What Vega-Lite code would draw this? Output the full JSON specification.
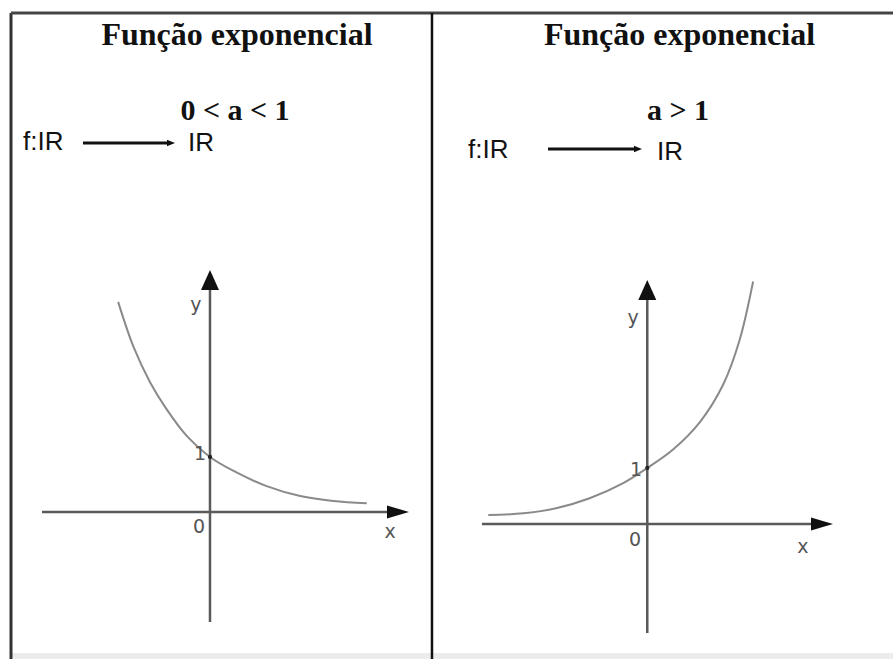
{
  "$schema": "https://vega.github.io/schema/vega-lite/v6.json",
  "autosize": "none",
  "padding": 0,
  "width": 893,
  "height": 659,
  "background": "white",
  "config": {"view": {"stroke": null}},
  "datasets": {
    "frame": [
      {"edge": "left", "X": -3.618, "X2": -3.618, "Y": 9.073, "Y2": -2.673},
      {"edge": "top", "X": -3.618, "X2": 12.418, "Y": 9.073, "Y2": 9.073},
      {"edge": "divider", "X": 4.036, "X2": 4.036, "Y": 9.073, "Y2": -2.673},
      {"edge": "bottom", "X": -3.618, "X2": 12.418, "Y": -2.618, "Y2": -2.618}
    ],
    "curve1": [
      {"X": -1.67, "Y": 3.82}, {"X": -1.39, "Y": 3.0}, {"X": -1.09, "Y": 2.36}, {"X": -0.79, "Y": 1.87},
      {"X": -0.42, "Y": 1.38}, {"X": 0, "Y": 1.0}, {"X": 0.42, "Y": 0.75}, {"X": 1.03, "Y": 0.47},
      {"X": 1.64, "Y": 0.29}, {"X": 2.24, "Y": 0.2}, {"X": 2.85, "Y": 0.16}
    ],
    "curve2": [
      {"X": -2.84, "Y": 0.16}, {"X": -2.21, "Y": 0.19}, {"X": -1.63, "Y": 0.28}, {"X": -1.03, "Y": 0.46},
      {"X": -0.43, "Y": 0.73}, {"X": 0, "Y": 1.0}, {"X": 0.46, "Y": 1.33}, {"X": 0.94, "Y": 1.82},
      {"X": 1.36, "Y": 2.5}, {"X": 1.65, "Y": 3.29}, {"X": 1.89, "Y": 4.33}
    ],
    "axes1": [
      {"X": 0, "X2": 0, "Y": -2.0, "Y2": 4.1},
      {"X": -3.055, "X2": 3.3, "Y": 0, "Y2": 0}
    ],
    "axes2": [
      {"X": 0, "X2": 0, "Y": -1.946, "Y2": 4.1},
      {"X": -2.952, "X2": 3.0, "Y": 0, "Y2": 0}
    ],
    "heads1": [
      {"X": 0, "Y": 4.218, "dir": "up"},
      {"X": 3.418, "Y": 0, "dir": "right"}
    ],
    "heads2": [
      {"X": 0, "Y": 4.179, "dir": "up"},
      {"X": 3.12, "Y": 0, "dir": "right"}
    ],
    "maparrow1": [{"X": -2.309, "X2": -0.764, "Y": 6.709, "Y2": 6.709, "hx": -0.709}],
    "maparrow2": [{"X": -1.773, "X2": -0.22, "Y": 6.696, "Y2": 6.696, "hx": -0.166}],
    "title1": [
      {"X": 0.491, "Y": 8.491, "label": "Função exponencial", "kind": "title"},
      {"X": 0.455, "Y": 7.127, "label": "0 < a < 1", "kind": "cond"}
    ],
    "title2": [
      {"X": 0.575, "Y": 8.554, "label": "Função exponencial", "kind": "title"},
      {"X": 0.548, "Y": 7.214, "label": "a > 1", "kind": "cond"}
    ],
    "map1": [
      {"X": -3.4, "Y": 6.582, "label": "f:IR"},
      {"X": -0.4, "Y": 6.564, "label": "IR"}
    ],
    "map2": [
      {"X": -3.202, "Y": 6.536, "label": "f:IR"},
      {"X": 0.173, "Y": 6.5, "label": "IR"}
    ],
    "labels1": [
      {"X": -0.255, "Y": 3.764, "label": "y"},
      {"X": -0.182, "Y": 1.055, "label": "1"},
      {"X": -0.2, "Y": -0.273, "label": "0"},
      {"X": 3.273, "Y": -0.364, "label": "x"}
    ],
    "labels2": [
      {"X": -0.255, "Y": 3.679, "label": "y"},
      {"X": -0.2, "Y": 0.964, "label": "1"},
      {"X": -0.22, "Y": -0.286, "label": "0"},
      {"X": 2.78, "Y": -0.41, "label": "x"}
    ],
    "dot": [{"X": 0, "Y": 1}]
  },
  "resolve": {"scale": {"x": "independent", "y": "independent"}},
  "layer": [
    {
      "encoding": {
        "x": {"field": "X", "type": "quantitative", "scale": {"domain": [-3.818, 12.418], "nice": false, "zero": false}, "axis": null},
        "y": {"field": "Y", "type": "quantitative", "scale": {"domain": [-2.673, 9.309], "nice": false, "zero": false}, "axis": null}
      },
      "layer": [
        {"data": {"name": "frame"}, "transform": [{"filter": "datum.edge === 'bottom'"}],
         "mark": {"type": "rule", "color": "#ececec", "strokeWidth": 6},
         "encoding": {"x2": {"field": "X2"}, "y2": {"field": "Y2"}}},
        {"data": {"name": "frame"}, "transform": [{"filter": "datum.edge === 'left'"}],
         "mark": {"type": "rule", "color": "#333", "strokeWidth": 3},
         "encoding": {"x2": {"field": "X2"}, "y2": {"field": "Y2"}}},
        {"data": {"name": "frame"}, "transform": [{"filter": "datum.edge === 'top'"}],
         "mark": {"type": "rule", "color": "#444", "strokeWidth": 3},
         "encoding": {"x2": {"field": "X2"}, "y2": {"field": "Y2"}}},
        {"data": {"name": "frame"}, "transform": [{"filter": "datum.edge === 'divider'"}],
         "mark": {"type": "rule", "color": "#111", "strokeWidth": 2.5},
         "encoding": {"x2": {"field": "X2"}, "y2": {"field": "Y2"}}},
        {"data": {"name": "axes1"}, "mark": {"type": "rule", "color": "#5a5a5a", "strokeWidth": 2.5},
         "encoding": {"x2": {"field": "X2"}, "y2": {"field": "Y2"}}},
        {"data": {"name": "heads1"}, "transform": [{"filter": "datum.dir === 'up'"}],
         "mark": {"type": "point", "shape": "M0,-1L-0.9,1L0.9,1Z", "filled": true, "color": "#111", "opacity": 1, "size": 400}, "encoding": {}},
        {"data": {"name": "heads1"}, "transform": [{"filter": "datum.dir === 'right'"}],
         "mark": {"type": "point", "shape": "M1,0L-1,-0.6L-1,0.6Z", "filled": true, "color": "#111", "opacity": 1, "size": 484}, "encoding": {}},
        {"data": {"name": "curve1"}, "mark": {"type": "line", "color": "#8a8a8a", "strokeWidth": 2, "interpolate": "catmull-rom"},
         "encoding": {"order": {"field": "X", "type": "quantitative"}}},
        {"data": {"name": "dot"}, "mark": {"type": "point", "filled": true, "color": "#222", "opacity": 1, "size": 18}, "encoding": {}},
        {"data": {"name": "maparrow1"}, "mark": {"type": "rule", "color": "#111", "strokeWidth": 3},
         "encoding": {"x2": {"field": "X2"}, "y2": {"field": "Y2"}}},
        {"data": {"name": "maparrow1"}, "mark": {"type": "point", "shape": "M1,0L-1,-0.8L-1,0.8Z", "filled": true, "color": "#111", "opacity": 1, "size": 64},
         "encoding": {"x": {"field": "hx", "type": "quantitative"}}},
        {"data": {"name": "title1"}, "transform": [{"filter": "datum.kind === 'title'"}],
         "mark": {"type": "text", "font": "Liberation Serif", "fontWeight": "bold", "fontSize": 32, "align": "center", "baseline": "alphabetic", "color": "#111"},
         "encoding": {"text": {"field": "label"}}},
        {"data": {"name": "title1"}, "transform": [{"filter": "datum.kind === 'cond'"}],
         "mark": {"type": "text", "font": "Liberation Serif", "fontWeight": "bold", "fontSize": 30, "align": "center", "baseline": "alphabetic", "color": "#111"},
         "encoding": {"text": {"field": "label"}}},
        {"data": {"name": "map1"}, "mark": {"type": "text", "font": "Liberation Sans", "fontSize": 26, "align": "left", "baseline": "alphabetic", "color": "#111"},
         "encoding": {"text": {"field": "label"}}},
        {"data": {"name": "labels1"}, "mark": {"type": "text", "font": "DejaVu Sans", "fontSize": 19, "align": "center", "baseline": "middle", "color": "#555"},
         "encoding": {"text": {"field": "label"}}}
      ]
    },
    {
      "encoding": {
        "x": {"field": "X", "type": "quantitative", "scale": {"domain": [-11.559, 4.388], "nice": false, "zero": false}, "axis": null},
        "y": {"field": "Y", "type": "quantitative", "scale": {"domain": [-2.411, 9.357], "nice": false, "zero": false}, "axis": null}
      },
      "layer": [
        {"data": {"name": "axes2"}, "mark": {"type": "rule", "color": "#5a5a5a", "strokeWidth": 2.5},
         "encoding": {"x2": {"field": "X2"}, "y2": {"field": "Y2"}}},
        {"data": {"name": "heads2"}, "transform": [{"filter": "datum.dir === 'up'"}],
         "mark": {"type": "point", "shape": "M0,-1L-0.9,1L0.9,1Z", "filled": true, "color": "#111", "opacity": 1, "size": 400}, "encoding": {}},
        {"data": {"name": "heads2"}, "transform": [{"filter": "datum.dir === 'right'"}],
         "mark": {"type": "point", "shape": "M1,0L-1,-0.6L-1,0.6Z", "filled": true, "color": "#111", "opacity": 1, "size": 484}, "encoding": {}},
        {"data": {"name": "curve2"}, "mark": {"type": "line", "color": "#8a8a8a", "strokeWidth": 2, "interpolate": "catmull-rom"},
         "encoding": {"order": {"field": "X", "type": "quantitative"}}},
        {"data": {"name": "dot"}, "mark": {"type": "point", "filled": true, "color": "#222", "opacity": 1, "size": 18}, "encoding": {}},
        {"data": {"name": "maparrow2"}, "mark": {"type": "rule", "color": "#111", "strokeWidth": 3},
         "encoding": {"x2": {"field": "X2"}, "y2": {"field": "Y2"}}},
        {"data": {"name": "maparrow2"}, "mark": {"type": "point", "shape": "M1,0L-1,-0.8L-1,0.8Z", "filled": true, "color": "#111", "opacity": 1, "size": 64},
         "encoding": {"x": {"field": "hx", "type": "quantitative"}}},
        {"data": {"name": "title2"}, "transform": [{"filter": "datum.kind === 'title'"}],
         "mark": {"type": "text", "font": "Liberation Serif", "fontWeight": "bold", "fontSize": 32, "align": "center", "baseline": "alphabetic", "color": "#111"},
         "encoding": {"text": {"field": "label"}}},
        {"data": {"name": "title2"}, "transform": [{"filter": "datum.kind === 'cond'"}],
         "mark": {"type": "text", "font": "Liberation Serif", "fontWeight": "bold", "fontSize": 30, "align": "center", "baseline": "alphabetic", "color": "#111"},
         "encoding": {"text": {"field": "label"}}},
        {"data": {"name": "map2"}, "mark": {"type": "text", "font": "Liberation Sans", "fontSize": 26, "align": "left", "baseline": "alphabetic", "color": "#111"},
         "encoding": {"text": {"field": "label"}}},
        {"data": {"name": "labels2"}, "mark": {"type": "text", "font": "DejaVu Sans", "fontSize": 19, "align": "center", "baseline": "middle", "color": "#555"},
         "encoding": {"text": {"field": "label"}}}
      ]
    }
  ]
}
